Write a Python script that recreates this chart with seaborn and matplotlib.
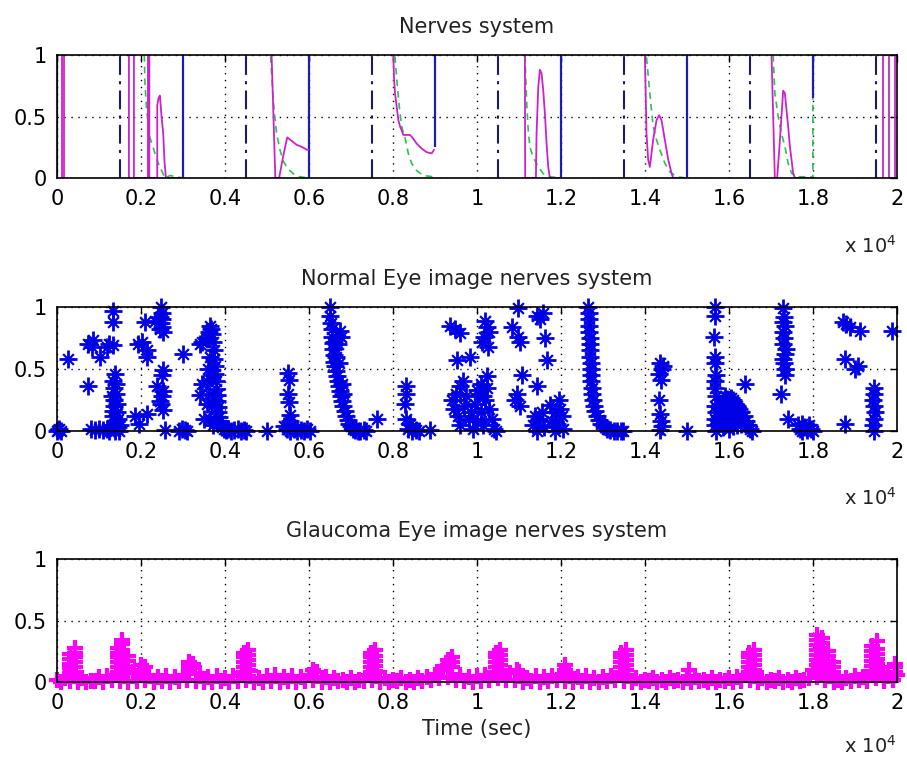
import numpy as np
import pandas as pd
import seaborn as sns
import matplotlib.pyplot as plt

# ---------------- values ----------------
x_ticks = [0, 2000, 4000, 6000, 8000, 10000, 12000, 14000, 16000, 18000, 20000]
x_tick_labels = ['0', '0.2', '0.4', '0.6', '0.8', '1', '1.2', '1.4', '1.6', '1.8', '2']
y_ticks = [0, 0.5, 1]
y_tick_labels = ['0', '0.5', '1']
titles = ['Nerves system', 'Normal Eye image nerves system',
          'Glaucoma Eye image nerves system']

# top panel: vertical pulse lines
dashdot_t = [1500, 4500, 7500, 10500, 13500, 16500, 19500]
solid_t = [0, 3000, 6000, 9000, 12000, 15000, 18000]
solid_low = [0, 0, 0, 0.25, 0, 0, 0.65]

# top panel: magenta bursts
mag_a_t = [130, 130, 170, 170]
mag_a_v = [0, 1, 1, 0]
mag_b_t = [1714, 1714, 1833, 1833, 2167, 2167, 2200, 2200, 2388, 2388, 2420, 2452,
           2490, 2531, 2560, 2595, 2700, 2850, 3000]
mag_b_v = [0, 1, 1, 0, 0, 1, 1, 0, 0, 0.59, 0.65, 0.67, 0.5, 0.36, 0.14, 0, 0, 0, 0]
mag_c_t = [5111, 5200, 5290, 5400, 5484, 5560, 5706, 5850, 5944, 5990]
mag_c_v = [1, 0, 0, 0.2, 0.33, 0.31, 0.27, 0.25, 0.23, 0.23]
mag_d_t = [8010, 8026, 8050, 8090, 8130, 8170, 8248, 8330, 8407, 8485, 8565, 8684,
           8804, 8923, 8980]
mag_d_v = [1, 0.82, 0.69, 0.58, 0.47, 0.42, 0.35, 0.35, 0.35, 0.32, 0.28, 0.24,
           0.21, 0.2, 0.23]
mag_e_t = [11143, 11150, 11200, 11405, 11421, 11461, 11500, 11540, 11580, 11620,
           11659, 11699, 11738, 11850, 12000]
mag_e_v = [1, 0, 0, 0, 0.36, 0.74, 0.88, 0.85, 0.71, 0.52, 0.28, 0.09, 0, 0, 0]
mag_f_t = [14000, 14039, 14078, 14118, 14197, 14277, 14340, 14396, 14476, 14555,
           14634, 14674, 14850, 15000]
mag_f_v = [1, 0.36, 0.15, 0.09, 0.31, 0.47, 0.51, 0.47, 0.31, 0.15, 0.04, 0, 0, 0]
mag_g_t = [17016, 17095, 17150, 17214, 17293, 17333, 17412, 17452, 17531, 17571,
           17800, 18000]
mag_g_v = [1, 0, 0, 0.3, 0.71, 0.69, 0.42, 0.26, 0.04, 0, 0, 0]
mag_h_t = [19675, 19675, 19820, 19820, 19960, 19960]
mag_h_v = [0, 1, 1, 0, 0, 1]

# top panel: green decays
grn_b_t = [2080, 2096, 2135, 2214, 2334, 2413, 2492, 2572, 2690, 2850, 3000]
grn_b_v = [1, 0.77, 0.55, 0.33, 0.2, 0.12, 0.06, 0, 0.02, 0.01, 0]
grn_c_t = [5088, 5150, 5230, 5310, 5389, 5484, 5627, 5786, 5985]
grn_c_v = [0.99, 0.63, 0.36, 0.23, 0.14, 0.08, 0.035, 0.01, 0]
grn_d_t = [8048, 8088, 8151, 8207, 8287, 8366, 8445, 8565, 8723, 8961, 9000]
grn_d_v = [0.99, 0.82, 0.58, 0.42, 0.33, 0.2, 0.12, 0.06, 0.02, 0.01, 0]
grn_e_t = [11143, 11183, 11222, 11262, 11341, 11461, 11580, 11738, 12000]
grn_e_v = [1, 0.63, 0.39, 0.25, 0.17, 0.09, 0.035, 0.01, 0]
grn_f_t = [14039, 14118, 14197, 14277, 14356, 14476, 14595, 14753, 15000]
grn_f_v = [0.98, 0.69, 0.42, 0.31, 0.23, 0.12, 0.05, 0.01, 0]
grn_g_t = [17055, 17095, 17174, 17253, 17333, 17412, 17492, 17611, 17990, 18000, 18000]
grn_g_v = [1, 0.69, 0.5, 0.36, 0.26, 0.12, 0.04, 0.01, 0.01, 0, 0.65]

# middle panel: normal eye points
normal_t = [
    0, 50, 100, 30, 270,
    750, 750, 865, 830, 1024, 1183, 1250, 1341, 1341, 1341,
    800, 900, 1000, 1100, 1180, 1250,
    1300, 1330, 1350, 1320, 1360, 1330, 1380, 1400, 1420, 1440, 1400, 1450, 1480,
    1380, 1340, 1360, 1410, 1460, 1500,
    1937, 2135, 2135, 1857, 2135, 1960, 2096, 2334, 2030,
    2450, 2470, 2490, 2510, 2480, 2500, 2530, 2460,
    2533, 2373, 2500, 2480, 2520, 2450, 2570, 2500, 2520,
    2992, 2900, 2970, 3040, 3100,
    3400, 3450, 3400, 3450, 3500,
    3600, 3620, 3650, 3680, 3700, 3720, 3740, 3750, 3760, 3770, 3780, 3790, 3800,
    3810, 3830, 3840, 3860, 3880, 3900, 3930, 3970, 4020, 4080, 4150, 4220, 4300,
    4380, 4450, 4500,
    3570, 3570, 3600, 3650, 3620, 3700, 3690, 3720, 3640,
    4990,
    5500, 5520, 5500, 5530, 5540, 5560, 5400, 5480, 5560, 5640, 5720, 5800, 5880,
    5960, 6020, 5600,
    6500, 6510, 6520, 6540, 6560, 6570, 6580, 6590, 6600, 6620, 6650, 6680, 6700,
    6720, 6740, 6760, 6790, 6820, 6850, 6880, 6920, 6960, 7000, 7050, 7100, 7160,
    7220, 7300, 7360, 6740, 6760, 6700, 6650, 6720, 6600, 6800, 6780, 7610,
    8283, 8320, 8300, 8400, 8300, 8350, 8450, 8550, 8620, 8880, 9357,
    9476, 9600, 9520, 9840, 9600, 9400, 9450, 9500, 9550, 9600, 9700, 9750, 9800,
    9850, 9900, 9950, 10000, 10050, 10100, 10150, 10200, 10230, 10250, 10300,
    10350, 10400, 10450, 10100, 10150, 10230, 10180, 10260, 10200, 10280, 10120,
    9660, 10000,
    10986, 10830, 10986, 11030, 11070, 10900, 11020, 10950,
    11420, 11580, 11620, 11660, 11420, 11500,
    11340, 11380, 11440, 11490, 11540, 11740, 11800, 11860, 11960, 11990, 12020,
    11900, 12040, 11600, 11860,
    12650, 12660, 12670, 12680, 12680, 12690, 12690, 12700, 12700, 12710, 12710,
    12720, 12720, 12730, 12740, 12760, 12780, 12810, 12850, 12900, 12960, 13030,
    13100, 13180, 13260, 13340, 13420, 13480,
    14357, 14400, 14330, 14380, 14330, 14360, 14380, 14350, 14420, 14400,
    14992,
    15660, 15680, 15650, 15680, 15660, 15690, 15670, 15700, 15660, 15690, 15680,
    15700, 15680, 15670,
    15800, 15850, 15900, 15950, 16000, 16050, 16100, 16150, 16200, 16250, 16300,
    16350, 16400, 16450, 16500, 16560, 15850, 15900, 15950, 16000, 16050, 16100,
    16150, 16200, 15800, 15850, 16000, 16100, 16250, 16300, 16381,
    17300, 17320, 17280, 17330, 17300, 17320, 17290, 17330, 17300, 17320, 17340,
    17330, 17250, 17400, 17350,
    17650, 17700, 17750, 17800, 17850, 17900, 17950, 18000, 17750,
    18722, 18881, 19119, 18800, 18762, 19079, 19000, 18762,
    19450, 19460, 19440, 19460, 19450, 19440, 19460, 19470,
    19873,
]
normal_v = [
    0.0, 0.02, 0.0, 0.01, 0.58,
    0.36, 0.70, 0.73, 0.68, 0.6, 0.68, 0.7, 0.69, 0.97, 0.88,
    0.02, 0.01, 0.02, 0.01, 0.02, 0.0,
    0.05, 0.12, 0.2, 0.28, 0.35, 0.4, 0.46, 0.3, 0.22, 0.15, 0.08, 0.03, 0.0,
    0.0, 0.16, 0.25, 0.38, 0.1, 0.05,
    0.7, 0.65, 0.6, 0.12, 0.14, 0.06, 0.88, 0.89, 0.72,
    0.82, 0.87, 0.9, 0.95, 1.0, 0.84, 0.8, 0.92,
    0.49, 0.36, 0.28, 0.22, 0.17, 0.24, 0.01, 0.45, 0.32,
    0.62, 0.0, 0.02, 0.01, 0.0,
    0.7, 0.72, 0.29, 0.38, 0.1,
    0.75, 0.8, 0.85, 0.82, 0.78, 0.72, 0.65, 0.58, 0.52, 0.46, 0.4, 0.34, 0.29,
    0.24, 0.19, 0.15, 0.11, 0.08, 0.05, 0.03, 0.02, 0.01, 0.02, 0.0, 0.01, 0.02,
    0.0, 0.01, 0.0,
    0.4, 0.22, 0.5, 0.1, 0.3, 0.45, 0.2, 0.05, 0.6,
    0.0,
    0.47, 0.41, 0.3, 0.23, 0.13, 0.08, 0.04, 0.02, 0.0, 0.02, 0.0, 0.01, 0.0,
    0.02, 0.0, 0.05,
    1.0, 0.93, 0.87, 0.82, 0.76, 0.71, 0.66, 0.61, 0.56, 0.52, 0.48, 0.44, 0.4,
    0.36, 0.32, 0.28, 0.24, 0.2, 0.16, 0.12, 0.09, 0.06, 0.04, 0.02, 0.01, 0.0,
    0.0, 0.01, 0.0, 0.81, 0.76, 0.7, 0.6, 0.55, 0.72, 0.3, 0.38, 0.1,
    0.22, 0.36, 0.3, 0.06, 0.1, 0.02, 0.0, 0.01, 0.0, 0.01, 0.85,
    0.82, 0.79, 0.57, 0.6, 0.36, 0.25, 0.18, 0.3, 0.12, 0.05, 0.2, 0.28, 0.1,
    0.15, 0.02, 0.22, 0.08, 0.3, 0.15, 0.05, 0.25, 0.44, 0.35, 0.18,
    0.1, 0.02, 0.0, 0.38, 0.28, 0.84, 0.76, 0.68, 0.89, 0.8, 0.72,
    0.4, 0.33,
    0.99, 0.84, 0.76, 0.72, 0.45, 0.25, 0.2, 0.3,
    0.93, 0.95, 0.75, 0.57, 0.36, 0.9,
    0.05, 0.12, 0.0, 0.1, 0.15, 0.21, 0.08, 0.0, 0.25, 0.18, 0.12,
    0.06, 0.02, 0.03, 0.15,
    1.0, 0.95, 0.9, 0.85, 0.8, 0.75, 0.7, 0.65, 0.6, 0.55, 0.5,
    0.45, 0.4, 0.35, 0.3, 0.25, 0.2, 0.16, 0.12, 0.09, 0.06, 0.04,
    0.02, 0.01, 0.0, 0.0, 0.0, 0.0,
    0.55, 0.5, 0.46, 0.41, 0.25, 0.14, 0.08, 0.01, 0.52, 0.04,
    0.0,
    1.0, 0.93, 0.76, 0.6, 0.55, 0.45, 0.35, 0.28, 0.2, 0.15, 0.05,
    0.0, 0.4, 0.1,
    0.22, 0.25, 0.28, 0.26, 0.24, 0.27, 0.25, 0.22, 0.2, 0.18, 0.15,
    0.12, 0.08, 0.05, 0.02, 0.0, 0.15, 0.1, 0.18, 0.12, 0.06, 0.15,
    0.1, 0.05, 0.08, 0.03, 0.02, 0.04, 0.1, 0.06, 0.38,
    0.99, 0.92, 0.88, 0.85, 0.8, 0.75, 0.7, 0.62, 0.58, 0.55, 0.5,
    0.45, 0.3, 0.1, 0.66,
    0.05, 0.02, 0.0, 0.03, 0.01, 0.05, 0.02, 0.0, 0.06,
    0.88, 0.84, 0.81, 0.86, 0.58, 0.52, 0.5, 0.06,
    0.35, 0.3, 0.25, 0.2, 0.1, 0.05, 0.0, 0.15,
    0.81,
]

# bottom panel: glaucoma eye, sampled every 200 (base) and in between (floor)
glaucoma_step = 200
glaucoma_base_v = [
    0.02, 0.03, 0.05, 0.03, 0.01, 0.04, 0.05, 0.06, 0.07, 0.08,
    0.10, 0.06, 0.04, 0.05, 0.04, 0.06, 0.12, 0.07, 0.04, 0.05,
    0.03, 0.05, 0.07, 0.09, 0.03, 0.05, 0.06, 0.04, 0.05, 0.04,
    0.06, 0.08, 0.04, 0.03, 0.02, 0.03, 0.02, 0.06, 0.08, 0.03,
    0.02, 0.03, 0.02, 0.03, 0.04, 0.06, 0.10, 0.12, 0.06, 0.04,
    0.05, 0.06, 0.08, 0.10, 0.07, 0.08, 0.03, 0.05, 0.04, 0.05,
    0.06, 0.07, 0.04, 0.05, 0.03, 0.04, 0.05, 0.07, 0.06, 0.03,
    0.02, 0.03, 0.02, 0.03, 0.02, 0.03, 0.04, 0.02, 0.03, 0.02,
    0.03, 0.04, 0.06, 0.07, 0.03, 0.02, 0.03, 0.02, 0.03, 0.02,
    0.10, 0.12, 0.08, 0.02, 0.03, 0.05, 0.04, 0.06, 0.08, 0.05,
    0.06,
]
glaucoma_floor_v = [
    0.00, 0.01, 0.00, 0.00, 0.01, 0.00, 0.02, 0.01, 0.00, 0.01,
    0.02, 0.00, 0.01, 0.00, 0.01, 0.02, 0.01, 0.00, 0.00, 0.01,
    0.00, 0.01, 0.02, 0.00, 0.00, 0.01, 0.00, 0.01, 0.00, 0.01,
    0.02, 0.00, 0.00, 0.01, 0.00, 0.00, 0.01, 0.02, 0.00, 0.00,
    0.01, 0.00, 0.00, 0.01, 0.02, 0.03, 0.04, 0.02, 0.01, 0.00,
    0.01, 0.02, 0.03, 0.02, 0.02, 0.00, 0.01, 0.00, 0.01, 0.02,
    0.01, 0.00, 0.01, 0.00, 0.00, 0.01, 0.02, 0.01, 0.00, 0.00,
    0.01, 0.00, 0.00, 0.01, 0.00, 0.00, 0.01, 0.00, 0.00, 0.01,
    0.00, 0.01, 0.02, 0.00, 0.00, 0.01, 0.00, 0.00, 0.01, 0.03,
    0.04, 0.02, 0.00, 0.00, 0.01, 0.02, 0.01, 0.03, 0.01, 0.02,
]
glaucoma_peak_t = [
    300, 300, 300, 300, 300, 420, 420, 420, 420, 420, 420,
    1450, 1450, 1450, 1450, 1450, 1450, 1560, 1560, 1560, 1560, 1560, 1560, 1560,
    1680, 1680, 1680, 1680,
    2000, 2000, 2100,
    3150, 3150, 3150, 3250, 3250,
    4450, 4450, 4450, 4450, 4450, 4560, 4560, 4560, 4560, 4560,
    6100,
    7480, 7480, 7480, 7480, 7480, 7580, 7580, 7580, 7580, 7580,
    9200, 9300, 9300, 9400, 9400,
    10450, 10450, 10450, 10450, 10450, 10560, 10560, 10560, 10560, 10560,
    10950,
    12100, 12100,
    13430, 13430, 13430, 13430, 13430, 13540, 13540, 13540, 13540, 13540,
    15060,
    16480, 16480, 16480, 16480, 16480, 16590, 16590, 16590, 16590, 16590,
    18100, 18100, 18100, 18100, 18100, 18100, 18100, 18100,
    18220, 18220, 18220, 18220, 18220, 18220, 18220,
    18360, 18360, 18360, 18360, 18360, 18470, 18470, 18470,
    19420, 19420, 19420, 19420, 19420, 19420, 19520, 19520, 19520, 19520, 19520,
    19520, 19650, 19650,
    19950, 19950, 19950,
]
glaucoma_peak_v = [
    0.07, 0.11, 0.15, 0.19, 0.23, 0.08, 0.12, 0.16, 0.20, 0.24, 0.28,
    0.08, 0.12, 0.16, 0.20, 0.24, 0.28, 0.10, 0.14, 0.18, 0.22, 0.26, 0.31, 0.34,
    0.07, 0.12, 0.17, 0.21,
    0.10, 0.14, 0.12,
    0.09, 0.13, 0.16, 0.11, 0.15,
    0.08, 0.12, 0.16, 0.20, 0.24, 0.10, 0.14, 0.18, 0.22, 0.26,
    0.10,
    0.08, 0.12, 0.16, 0.20, 0.24, 0.09, 0.13, 0.17, 0.21, 0.26,
    0.13, 0.14, 0.18, 0.16, 0.20,
    0.08, 0.12, 0.16, 0.20, 0.24, 0.10, 0.14, 0.18, 0.22, 0.26,
    0.10,
    0.10, 0.14,
    0.08, 0.12, 0.16, 0.20, 0.24, 0.10, 0.14, 0.18, 0.22, 0.26,
    0.10,
    0.08, 0.12, 0.16, 0.20, 0.24, 0.10, 0.14, 0.18, 0.22, 0.26,
    0.10, 0.14, 0.18, 0.22, 0.26, 0.30, 0.34, 0.38,
    0.12, 0.16, 0.20, 0.24, 0.28, 0.32, 0.36,
    0.09, 0.13, 0.17, 0.21, 0.25, 0.08, 0.12, 0.16,
    0.09, 0.13, 0.17, 0.21, 0.25, 0.29, 0.11, 0.15, 0.19, 0.23, 0.27,
    0.33, 0.08, 0.12,
    0.08, 0.12, 0.15,
]


def traces(*pairs):
    """stack (t, v) pairs into one long frame with a segment id"""
    parts = [pd.DataFrame({'t': t, 'v': v, 'seg': k}) for k, (t, v) in enumerate(pairs)]
    return pd.concat(parts, ignore_index=True)


def matlab_axes(ax, title):
    ax.set_xlim(0, 20000)
    ax.set_ylim(0, 1)
    ax.set_xticks(x_ticks)
    ax.set_xticklabels(x_tick_labels)
    ax.set_yticks(y_ticks)
    ax.set_yticklabels(y_tick_labels)
    ax.tick_params(axis='both', direction='in', length=5, width=1,
                   top=True, right=True, labelsize=15, colors='black')
    ax.tick_params(axis='x', pad=8)
    ax.tick_params(axis='y', pad=7)
    ax.grid(True, color='black', linestyle=(0, (1, 4)), linewidth=1)
    for sp in ax.spines.values():
        sp.set_visible(True)
        sp.set_color('black')
        sp.set_linewidth(1.2)
    ax.set_xlabel('')
    ax.set_ylabel('')
    ax.set_title(title, fontsize=15, pad=16, color='#222222')


sns.set_style('white')
plt.rcParams['font.family'] = ['DejaVu Sans']

fig = plt.figure(figsize=(9.07, 7.6), dpi=100)
ax1 = fig.add_axes([0.0628, 0.7658, 0.926, 0.1618])
ax2 = fig.add_axes([0.0628, 0.4329, 0.926, 0.1632])
ax3 = fig.add_axes([0.0628, 0.1026, 0.926, 0.1618])

# --- top panel ---
ax1.vlines(dashdot_t, 0, 1, colors='#1c1c66', linestyles=[(0, (9, 3, 1.5, 3))], linewidth=1.5)
ax1.vlines(solid_t, solid_low, 1, colors='#1c1cb0', linewidth=1.6)
magenta = traces((mag_a_t, mag_a_v), (mag_b_t, mag_b_v), (mag_c_t, mag_c_v),
                 (mag_d_t, mag_d_v), (mag_e_t, mag_e_v), (mag_f_t, mag_f_v),
                 (mag_g_t, mag_g_v), (mag_h_t, mag_h_v))
green = traces((grn_b_t, grn_b_v), (grn_c_t, grn_c_v), (grn_d_t, grn_d_v),
               (grn_e_t, grn_e_v), (grn_f_t, grn_f_v), (grn_g_t, grn_g_v))
sns.lineplot(data=green, x='t', y='v', units='seg', estimator=None, sort=False,
             color='#2fc24f', linewidth=1.2, linestyle=(0, (4, 3)), ax=ax1)
sns.lineplot(data=magenta, x='t', y='v', units='seg', estimator=None, sort=False,
             color='#cc22cc', linewidth=1.3, ax=ax1)
matlab_axes(ax1, titles[0])

# --- middle panel ---
sns.scatterplot(x=normal_t, y=normal_v, marker='+', s=150, color='#0000e6',
                linewidth=2.0, clip_on=False, ax=ax2)
sns.scatterplot(x=normal_t, y=normal_v, marker='x', s=60, color='#0000e6',
                linewidth=1.6, clip_on=False, ax=ax2)
matlab_axes(ax2, titles[1])

# --- bottom panel ---
base_t = np.arange(len(glaucoma_base_v)) * glaucoma_step
floor_t = np.arange(len(glaucoma_floor_v)) * glaucoma_step + glaucoma_step // 2
for tt, vv in [(base_t, glaucoma_base_v), (floor_t, glaucoma_floor_v),
               (glaucoma_peak_t, glaucoma_peak_v)]:
    sns.scatterplot(x=tt, y=vv, marker='+', s=130, color='#ff00ff',
                    linewidth=3.0, clip_on=False, ax=ax3)
matlab_axes(ax3, titles[2])
ax3.set_xlabel('Time (sec)', fontsize=15, labelpad=4, color='#222222')

# exponent labels under each x axis
for yy in [0.667, 0.336, 0.009]:
    fig.text(0.989, yy, r'x 10$^{4}$', fontsize=14, ha='right', va='baseline',
             color='#222222')

fig.savefig('out.png', dpi=100)
